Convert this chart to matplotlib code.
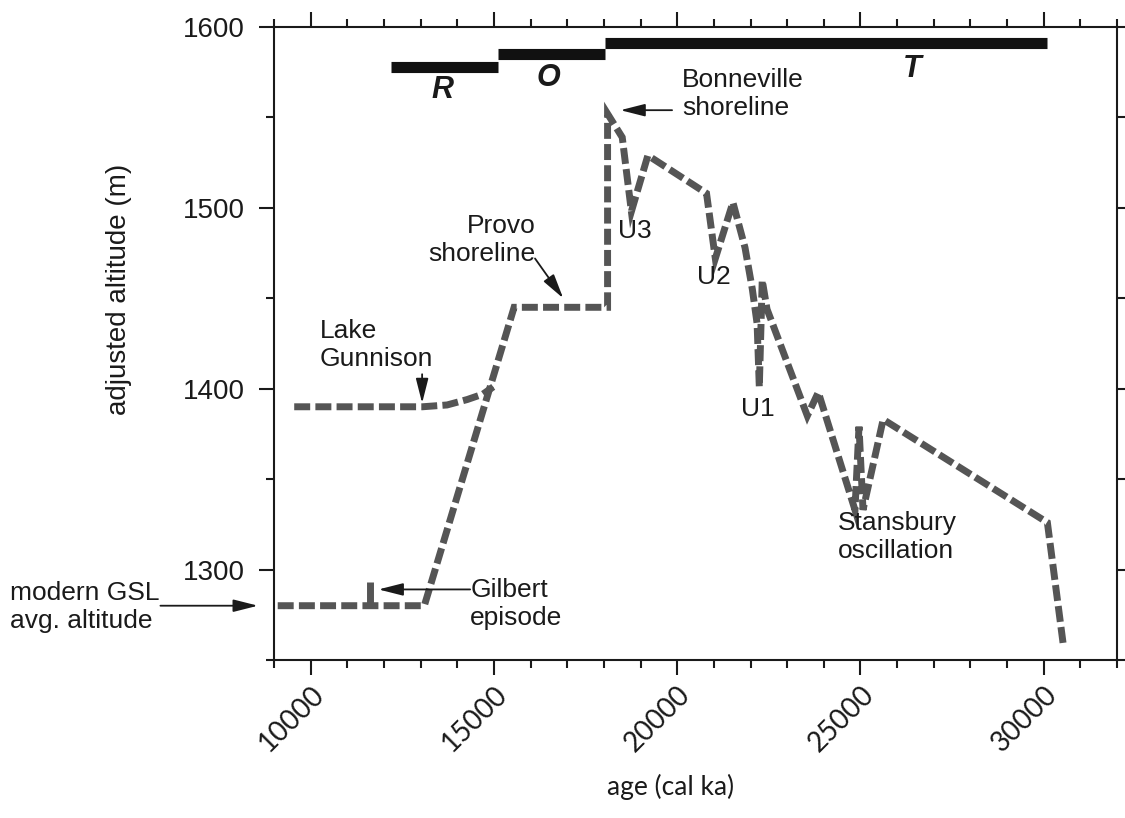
import numpy as np
import matplotlib.pyplot as plt
from matplotlib.ticker import MultipleLocator

# lake hydrograph (age in cal yr BP, adjusted altitude in m)
age = [9100, 13100, 15550, 18100, 18100, 18500, 18750, 19200, 20800, 21040,
       21520, 21850, 22050, 22180, 22240, 22320, 22450, 23550, 23850, 24850,
       24960, 25070, 25620, 30100, 30530]
alt = [1280, 1280, 1445, 1445, 1552, 1539, 1498, 1529, 1508, 1472,
       1503, 1478, 1455, 1436, 1401, 1460, 1444, 1385, 1398, 1333,
       1379, 1333, 1383, 1326, 1259]

# Lake Gunnison overflow level
gun_age = [9550, 13050, 13720, 14270, 14700, 14980]
gun_alt = [1390, 1390, 1391, 1394, 1397, 1401]

# Gilbert episode
gilbert_age = 11620
gilbert_alt = [1280, 1293]

# R / O / T phases
phase_names = ['R', 'O', 'T']
phase_start = [12200, 15100, 18030]
phase_end = [15100, 18030, 30100]
phase_level = [1578, 1585, 1591]
phase_label_xy = [(13600, 1565), (16480, 1572), (26400, 1577)]

grey = '#555555'
ink = '#1a1a1a'
afont = 'Liberation Sans'

fig = plt.figure(figsize=(11.25, 8.18), dpi=100)
ax = fig.add_axes([0.2436, 0.1932, 0.7493, 0.7738])

dash = dict(color=grey, lw=5, dashes=(2.3, 0.75), dash_joinstyle='miter',
            dash_capstyle='butt')
ax.plot(age, alt, **dash)
ax.plot(gun_age, gun_alt, **dash)
ax.plot([gilbert_age, gilbert_age], gilbert_alt, color=grey, lw=5,
        solid_capstyle='butt')

for s, e, lev in zip(phase_start, phase_end, phase_level):
    ax.plot([s, e], [lev, lev], color='#111111', lw=8, solid_capstyle='butt')
for name, (x, y) in zip(phase_names, phase_label_xy):
    ax.text(x, y, name, ha='center', va='center', fontsize=22,
            fontweight='bold', fontstyle='italic', family=afont, color=ink)

ax.set_xlim(9000, 32000)
ax.set_ylim(1250, 1600)
ax.xaxis.set_major_locator(MultipleLocator(5000))
ax.xaxis.set_minor_locator(MultipleLocator(1000))
ax.yaxis.set_major_locator(MultipleLocator(100))
ax.yaxis.set_minor_locator(MultipleLocator(50))

for sp in ax.spines.values():
    sp.set_linewidth(1.5)
    sp.set_color(ink)
ax.tick_params(which='both', direction='out', top=True, right=True,
               color=ink, width=1.5)
ax.tick_params(which='major', length=11)
ax.tick_params(which='minor', length=6)
ax.tick_params(axis='y', labelsize=20, pad=10, labelcolor=ink)
ax.tick_params(axis='x', labelsize=20, pad=4, labelcolor=ink)
for t in ax.get_yticklabels():
    t.set_family(afont)
for t in ax.get_xticklabels():
    t.set_family('Lato')
    t.set_rotation(45)
    t.set_ha('right')
    t.set_va('top')
    t.set_rotation_mode('anchor')

ax.set_ylabel('adjusted altitude (m)', fontsize=20, family=afont, color=ink)
ax.yaxis.set_label_coords(-0.168, 0.585)
fig.text(0.596, 0.022, 'age (cal ka)', ha='center', va='bottom',
         fontsize=19, family='Lato', color=ink)

arrow = dict(arrowstyle='-|>,head_length=1.5,head_width=0.38', color=ink,
             lw=1.3, shrinkA=0, shrinkB=0)
tx = dict(fontsize=19, family=afont, color=ink, linespacing=1.2)

ax.text(20130, 1563, 'Bonneville\nshoreline', ha='left', va='center', **tx)
ax.annotate('', xy=(18450, 1554), xytext=(19860, 1554), arrowprops=arrow)

ax.text(16130, 1482, 'Provo\nshoreline', ha='right', va='center', **tx)
ax.annotate('', xy=(16890, 1450), xytext=(16120, 1472), arrowprops=arrow)

ax.text(10250, 1424, 'Lake\nGunnison', ha='left', va='center', **tx)
ax.annotate('', xy=(13040, 1392), xytext=(13040, 1408), arrowprops=arrow)

ax.text(14350, 1281, 'Gilbert\nepisode', ha='left', va='center', **tx)
ax.annotate('', xy=(11850, 1289), xytext=(14350, 1289), arrowprops=arrow)

ax.text(18850, 1487, 'U3', ha='center', va='center', **tx)
ax.text(21010, 1462, 'U2', ha='center', va='center', **tx)
ax.text(22210, 1389, 'U1', ha='center', va='center', **tx)
ax.text(24390, 1318, 'Stansbury\noscillation', ha='left', va='center', **tx)

fig.text(0.009, 0.258, 'modern GSL\navg. altitude', ha='left', va='center', **tx)
ax.annotate('', xy=(8560, 1280), xytext=(5900, 1280), arrowprops=arrow,
            annotation_clip=False)

fig.savefig('out.png', dpi=100)
